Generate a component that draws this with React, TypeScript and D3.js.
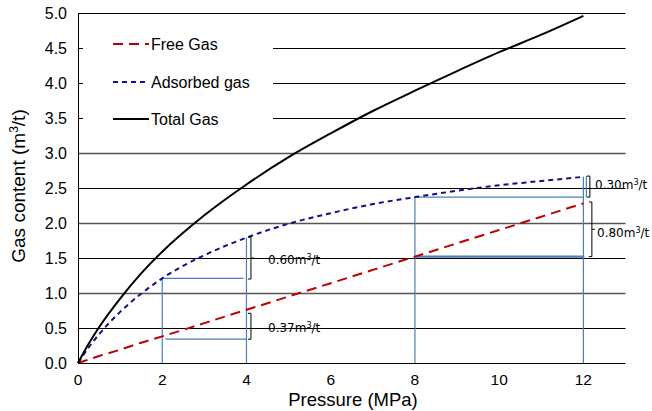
import React from "react";
import * as d3 from "d3";

const pressure = [0, 0.25, 0.5, 1, 1.5, 2, 3, 4, 5, 6, 7, 8, 9, 10, 11, 12];
const freeGas = [0, 0.05, 0.1, 0.19, 0.29, 0.38, 0.57, 0.76, 0.95, 1.14, 1.33, 1.52, 1.71, 1.9, 2.09, 2.28];
const adsorbedGas = [0, 0.22, 0.41, 0.73, 0.99, 1.21, 1.54, 1.79, 1.99, 2.14, 2.27, 2.37, 2.46, 2.54, 2.6, 2.66];
const totalGas = [0, 0.27, 0.51, 0.92, 1.28, 1.59, 2.11, 2.55, 2.94, 3.28, 3.6, 3.89, 4.17, 4.44, 4.69, 4.96];

const xTicks = [0, 2, 4, 6, 8, 10, 12];
const yTicks = [0, 0.5, 1, 1.5, 2, 2.5, 3, 3.5, 4, 4.5, 5];

const legendNames = ["Free Gas", "Adsorbed gas", "Total Gas"];

// annotation brackets: pressure, low, high, label
const bracketP = [4, 4, 12, 12];
const bracketLow = [1.2, 0.34, 2.37, 1.52];
const bracketHigh = [1.8, 0.71, 2.67, 2.3];
const bracketLabels = ["0.60", "0.37", "0.30", "0.80"];

export default function App() {
  const W = 652, H = 411;
  const x = d3.scaleLinear().domain([0, 13]).range([78, 625.5]);
  const y = d3.scaleLinear().domain([0, 5]).range([363, 13]);
  const mk = (vals: number[]) =>
    d3.line<number>().x((_, i) => x(pressure[i])).y((v) => y(v)).curve(d3.curveMonotoneX)(vals) || "";

  const blue = "#4a7ebb";
  const at = (arr: number[], p: number) => arr[pressure.indexOf(p)];

  const bracketOffsets = [4, 4, 6, 8];
  const tickDir = [1, 0, 0, 1];
  const labelX = [268, 268, 595, 597];
  const labelBaseOffset = [6, 6, 2, 8];

  return (
    <svg width={W} height={H} style={{ position: "absolute", left: 0, top: 0, background: "#fff" }}
      fontFamily="'Liberation Sans', Arial, sans-serif">
      {/* gridlines */}
      {yTicks.filter((t) => t > 0).map((t) => (
        <line key={t} x1={x(0)} x2={x(13)} y1={Math.round(y(t)) + 0.5} y2={Math.round(y(t)) + 0.5}
          stroke={t % 1 === 0 && t < 4 ? "#555" : "#000"} strokeWidth={t % 1 === 0 && t < 4 ? 1.6 : 1} />
      ))}
      {/* legend box */}
      <rect x={83} y={26} width={190} height={112} fill="#fff" />
      {/* axes */}
      <line x1={x(0)} x2={x(13)} y1={363.5} y2={363.5} stroke="#000" />
      <line x1={78.5} x2={78.5} y1={y(5)} y2={363.5} stroke="#000" />

      {/* blue guide lines */}
      <g stroke={blue} strokeWidth={1.2} fill="none">
        <line x1={x(2)} x2={x(2)} y1={y(0)} y2={y(at(adsorbedGas, 2))} />
        <line x1={x(2)} x2={x(4) - 3} y1={y(at(adsorbedGas, 2))} y2={y(at(adsorbedGas, 2))} />
        <line x1={x(2) + 3} x2={x(4)} y1={y(bracketLow[1])} y2={y(bracketLow[1])} />
        <line x1={x(4)} x2={x(4)} y1={y(0)} y2={y(at(adsorbedGas, 4))} />
        <line x1={x(8)} x2={x(8)} y1={y(0)} y2={y(at(adsorbedGas, 8))} />
        <line x1={x(8)} x2={x(12)} y1={y(at(adsorbedGas, 8))} y2={y(at(adsorbedGas, 8))} />
        <line x1={x(8)} x2={x(12) + 1} y1={y(at(freeGas, 8))} y2={y(at(freeGas, 8))} strokeWidth={2.2} />
        <line x1={x(12)} x2={x(12)} y1={y(0)} y2={y(at(adsorbedGas, 12))} />
        <line x1={x(12) + 3} x2={x(12) + 3} y1={y(bracketLow[2])} y2={y(bracketHigh[2])} />
      </g>

      {/* series */}
      <path d={mk(freeGas)} fill="none" stroke="#c00000" strokeWidth={2} strokeDasharray="10,6" />
      <path d={mk(adsorbedGas)} fill="none" stroke="#10108a" strokeWidth={2} strokeDasharray="5,4" />
      <path d={mk(totalGas)} fill="none" stroke="#000" strokeWidth={2} />

      {/* brackets */}
      {bracketP.map((p, i) => {
        const bx = x(p) + bracketOffsets[i] + 0.5;
        const y1 = y(bracketHigh[i]);
        const y2 = y(bracketLow[i]);
        const ym = (y1 + y2) / 2;
        return (
          <g key={i}>
            <path d={`M${bx - 3},${y1}H${bx}V${y2}H${bx - 3}`} fill="none" stroke="#000" strokeWidth={1} />
            {tickDir[i] ? <line x1={bx} x2={bx + 3} y1={ym} y2={ym} stroke="#000" /> : null}
            <text x={labelX[i]} y={ym + labelBaseOffset[i]} fontSize={12}
              fontFamily="'DejaVu Sans', Verdana, sans-serif" fill="#000">
              {bracketLabels[i]}m<tspan dy={-4} fontSize={8}>3</tspan><tspan dy={4}>/t</tspan>
            </text>
          </g>
        );
      })}

      {/* legend */}
      {legendNames.map((n, i) => {
        const ly = [44, 82, 119][i];
        return (
          <g key={n}>
            <line x1={113} x2={149} y1={ly} y2={ly}
              stroke={["#c00000", "#10108a", "#000"][i]} strokeWidth={2}
              strokeDasharray={["10,6", "5,4", "none"][i]} />
            <text x={151} y={ly + 5.5} fontSize={16} fill="#000">{n}</text>
          </g>
        );
      })}

      {/* tick labels */}
      {yTicks.map((t) => (
        <text key={t} x={67} y={y(t) + 5.5} fontSize={16} textAnchor="end" fill="#000">{t.toFixed(1)}</text>
      ))}
      {xTicks.map((t) => (
        <text key={t} x={x(t)} y={385} fontSize={15.5} textAnchor="middle" fill="#000">{t}</text>
      ))}
      <text x={353} y={406} fontSize={18.5} textAnchor="middle" fill="#000">Pressure (MPa)</text>
      <text transform="translate(25,186) rotate(-90)" fontSize={19} textAnchor="middle" fill="#000">
        Gas content (m<tspan dy={-7} fontSize={12}>3</tspan><tspan dy={7}>/t)</tspan>
      </text>
    </svg>
  );
}
